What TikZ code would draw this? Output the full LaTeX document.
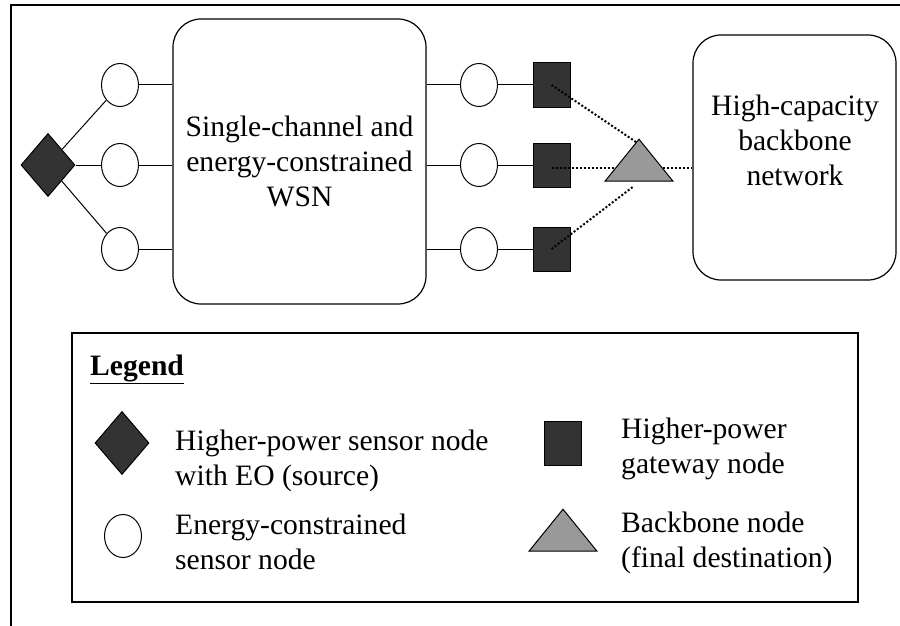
\documentclass[tikz,border=0pt]{standalone}
\usepackage{fontspec}
\setmainfont{Liberation Serif}
\usetikzlibrary{shapes.geometric}
\definecolor{darkfill}{HTML}{333333}
\definecolor{grayfill}{HTML}{999999}

\begin{document}
\begin{tikzpicture}[x=1pt,y=-1pt,
    txt/.style={font=\fontsize{29.6}{35}\selectfont},
    sensor/.style={ellipse,draw,line width=1pt,minimum width=37pt,minimum height=43pt,inner sep=0pt},
    source/.style={diamond,draw,fill=darkfill,line width=1pt,minimum width=54pt,minimum height=63pt,inner sep=0pt},
    gateway/.style={rectangle,draw,fill=darkfill,line width=1pt,minimum width=37pt,minimum height=44pt,inner sep=0pt},
    sink/.style={isosceles triangle,isosceles triangle stretches,shape border rotate=90,draw,fill=grayfill,
      line width=1pt,minimum width=68pt,minimum height=42pt,inner sep=0pt},
    netbox/.style={rectangle,draw,line width=1.2pt,rounded corners=28pt,inner sep=0pt},
    link/.style={line width=1pt},
    radio/.style={line width=2pt,dash pattern=on 2pt off 2pt}]

      \useasboundingbox (0,0) rectangle (900,626);
      \draw[line width=1.5pt] (11,626) -- (11,5) -- (900,5);

      % network
      \node[netbox,minimum width=253pt,minimum height=285pt,txt,align=center] (5) at (299.5,161.5)
        {Single-channel and\\energy-constrained\\WSN};
      \node[netbox,minimum width=203pt,minimum height=245pt] (13) at (794.5,157.5) {};
      \node[txt,align=center] (13t) at (795,140) {High-capacity\\backbone\\network};

      \begin{scope}[every node/.style={sensor}]
        \node (2) at (120,85)  {};
        \node (3) at (120,165) {};
        \node (4) at (120,249) {};
        \node (6) at (479,85)  {};
        \node (7) at (479,165) {};
        \node (8) at (479,249) {};
      \end{scope}

      \node[source] (1) at (48,165) {};

      \begin{scope}[every node/.style={gateway}]
        \node (9)  at (551.5,85)  {};
        \node (10) at (551.5,165) {};
        \node (11) at (551.5,249) {};
      \end{scope}

      \begin{scope}[every path/.style={link}]
        \path (1) edge (2) edge (3) edge (4);
        \path (2) edge (2 -| 5.west) (3) edge (3 -| 5.west) (4) edge (4 -| 5.west);
        \path (6 -| 5.east) edge (6) (7 -| 5.east) edge (7) (8 -| 5.east) edge (8);
        \path (6) edge (9) (7) edge (10) (8) edge (11);
      \end{scope}

      \coordinate (12a) at (639,144);
      \coordinate (12b) at (622,168);
      \coordinate (12c) at (634,186);
      \draw[radio] (9.center) -- (12a);
      \draw[radio] ([yshift=-3pt]10.center) -- (12b);
      \draw[radio] (11.center) -- (12c);
      \draw[radio] (639,168) -- (13.west |- 639,168);
      \node[sink] (12) at (639,165) {};

      % legend
      \draw[line width=1.4pt] (72,333) rectangle (858,602);
      \node[txt,anchor=base west,inner sep=0pt] (lg) at (90,375) {\underline{\textbf{Legend}}};

      \node[source] (l1) at (122,443) {};
      \node[sensor] (l2) at (123,536) {};
      \node[gateway] (l3) at (563,443.5) {};
      \node[sink] (l4) at (563,535) {};

      \begin{scope}[every node/.style={txt,align=left,anchor=west,inner sep=0pt}]
        \node (l1t) at (175,460.5) {Higher-power sensor node\\with EO (source)};
        \node (l2t) at (175,541.5) {Energy-constrained\\sensor node};
        \node (l3t) at (621,448.5) {Higher-power\\gateway node};
        \node (l4t) at (621,542.5) {Backbone node\\(final destination)};
      \end{scope}

    \end{tikzpicture}
\end{document}
